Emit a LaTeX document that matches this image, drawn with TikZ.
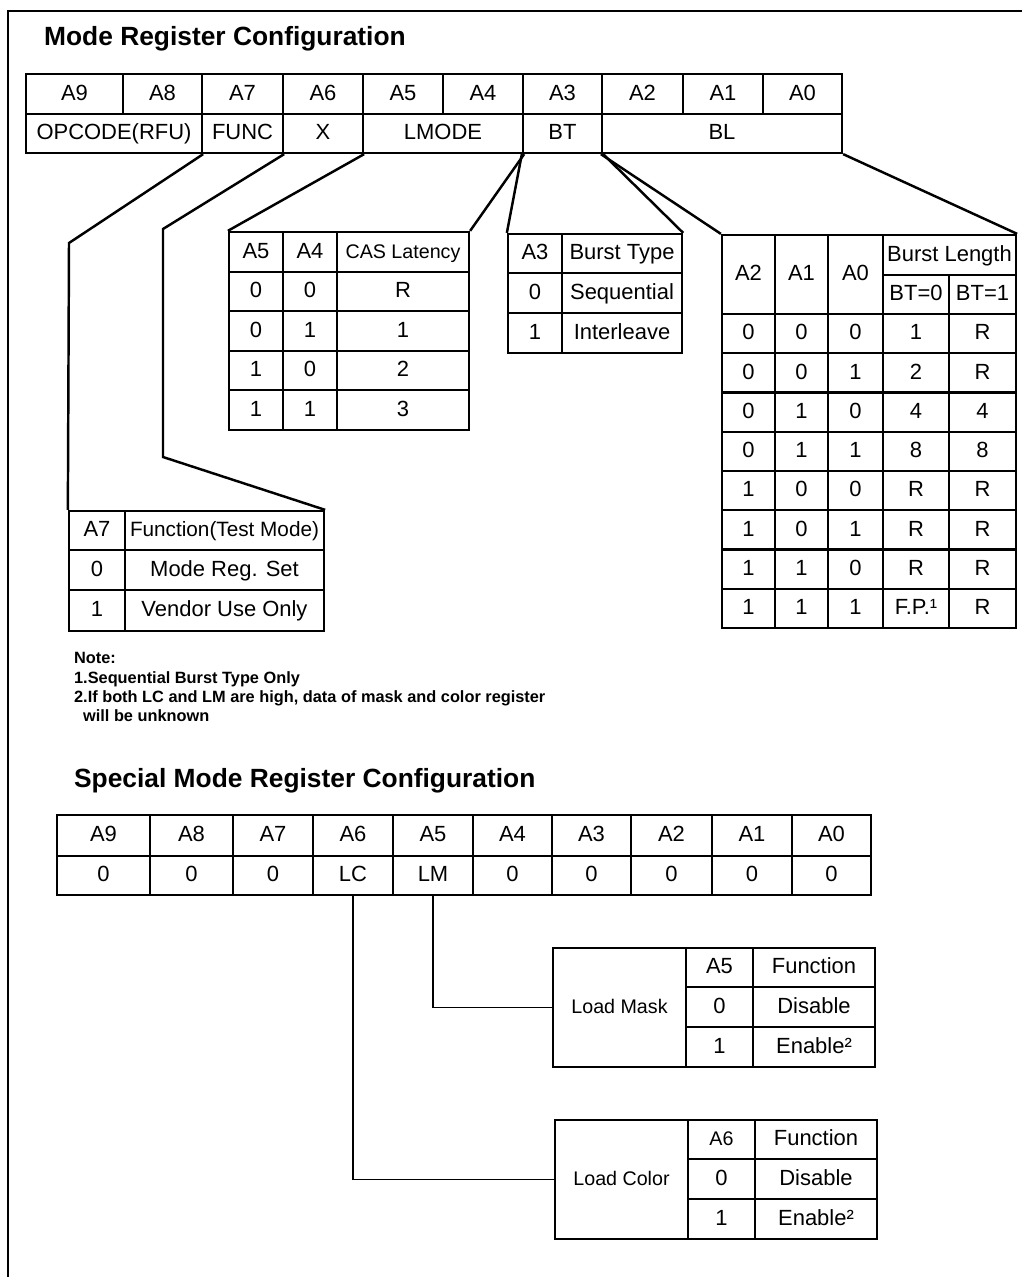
\documentclass[tikz,border=0pt]{standalone}
\usepackage{fontspec}
\setmainfont{Liberation Sans}
\tikzset{
  cell/.style={draw, line width=1.3pt, inner sep=0pt, text height=0.72em, text depth=0pt,
    font=\fontsize{12.5}{15}\selectfont},
  smalltext/.style={font=\fontsize{11.2}{13}\selectfont},
  heading/.style={inner sep=0pt, anchor=base west, font=\bfseries\fontsize{15}{18}\selectfont},
  notetext/.style={inner sep=0pt, anchor=base west, font=\bfseries\fontsize{9.3}{11}\selectfont},
  link/.style={line width=1.4pt},
}
% cell given by its left, top, right and bottom edge (pixels)
\newcommand\tabcell[7][]{%
  \node[cell,#1,minimum width={(#5-#3)*0.02cm},minimum height={(#6-#4)*0.02cm}]
    (#2) at ({(#3+#5)/2},{(#4+#6)/2}) {#7};}
\begin{document}
\begin{tikzpicture}[x=0.02cm, y=-0.02cm, line width=1.3pt]
  \useasboundingbox (0,0) rectangle (1022,1277);
  \draw[line width=1.2pt] (8,1277) -- (8,11) -- (1022,11);

  % mode register
  \node[heading] (mtitle) at (43,46) {Mode Register Configuration};
  \foreach \n/\l/\r in {9/26/123, 8/123/202, 7/202/283, 6/283/363, 5/363/443,
                        4/443/523, 3/523/602, 2/602/683, 1/683/763, 0/763/842}
    {\tabcell{ma\n}{\l}{74}{\r}{114}{A\n}}
  \tabcell{opc}{26}{114}{202}{153}{OPCODE(RFU)}
  \tabcell{func}{202}{114}{283}{153}{FUNC}
  \tabcell{xbit}{283}{114}{363}{153}{X}
  \tabcell{lmode}{363}{114}{523}{153}{LMODE}
  \tabcell{bt}{523}{114}{602}{153}{BT}
  \tabcell{bl}{602}{114}{842}{153}{BL}

  % CAS latency
  \tabcell{a5h}{229}{232}{283}{272}{A5}
  \tabcell{a4h}{283}{232}{337}{272}{A4}
  \tabcell[smalltext]{cash}{337}{232}{469}{272}{CAS Latency}
  \foreach \p/\q/\v/\t/\b in {0/0/R/272/311, 0/1/1/311/351, 1/0/2/351/390, 1/1/3/390/430}
    {\tabcell{c\t a}{229}{\t}{283}{\b}{\p}
     \tabcell{c\t b}{283}{\t}{337}{\b}{\q}
     \tabcell{c\t c}{337}{\t}{469}{\b}{\v}}

  % burst type
  \tabcell{a3h}{508}{234}{562}{273}{A3}
  \tabcell{bth}{562}{234}{682}{273}{Burst Type}
  \tabcell{bt0}{508}{273}{562}{313}{0}
  \tabcell{bts}{562}{273}{682}{313}{Sequential}
  \tabcell{bt1}{508}{313}{562}{353}{1}
  \tabcell{bti}{562}{313}{682}{353}{Interleave}

  % burst length
  \tabcell{a2h}{722}{235}{775}{314}{A2}
  \tabcell{a1h}{775}{235}{828}{314}{A1}
  \tabcell{a0h}{828}{235}{883}{314}{A0}
  \tabcell{blh}{883}{235}{1016}{275}{Burst Length}
  \tabcell{btz}{883}{275}{949}{314}{BT=0}
  \tabcell{bto}{949}{275}{1016}{314}{BT=1}
  \foreach \a/\b/\c/\p/\q [count=\k from 0] in
      {0/0/0/1/R, 0/0/1/2/R, 0/1/0/4/4, 0/1/1/8/8,
       1/0/0/R/R, 1/0/1/R/R, 1/1/0/R/R, 1/1/1/F.P.¹/R}
    {\pgfmathsetmacro\yt{314+39.25*\k}
     \pgfmathsetmacro\yb{\yt+39.25}
     \tabcell{b\k x2}{722}{\yt}{775}{\yb}{\a}
     \tabcell{b\k x1}{775}{\yt}{828}{\yb}{\b}
     \tabcell{b\k x0}{828}{\yt}{883}{\yb}{\c}
     \tabcell{b\k p}{883}{\yt}{949}{\yb}{\p}
     \tabcell{b\k q}{949}{\yt}{1016}{\yb}{\q}}

  % function
  \tabcell{a7h}{69}{511}{125}{550}{A7}
  \tabcell[font=\fontsize{11.8}{14}\selectfont]{fnh}{125}{511}{324}{550}{Function(Test Mode)}
  \tabcell{fn0}{69}{550}{125}{590}{0}
  \tabcell{fnm}{125}{550}{324}{590}{Mode Reg. Set}
  \tabcell{fn1}{69}{590}{125}{631}{1}
  \tabcell{fnv}{125}{590}{324}{631}{Vendor Use Only}

  \coordinate (k1) at (69,243);
  \coordinate (k2) at (163,229);
  \coordinate (k3) at (163,457);
  \draw[link] (opc.south east) -- (k1) -- (a7h.north west);
  \draw[link] (func.south east) -- (k2) -- (k3) -- (fnh.north east);
  \draw[link] (xbit.south east) -- (a5h.north west);
  \draw[link] (lmode.south east) -- (cash.north east);
  \draw[link] (bt.south west) -- (a3h.north west);
  \draw[link] (bt.south east) -- (bth.north east);
  \draw[link] (bl.south west) -- (a2h.north west);
  \draw[link] (bl.south east) -- (blh.north east);

  % notes
  \node[notetext] (note) at (73,663) {Note:};
  \node[notetext] (note1) at (73,683) {1.Sequential Burst Type Only};
  \node[notetext] (note2) at (73,702) {2.If both LC and LM are high, data of mask and color register};
  \node[notetext] (note3) at (82,721) {will be unknown};

  % special mode register
  \node[heading] (stitle) at (73,787) {Special Mode Register Configuration};
  \foreach \n/\l/\r/\v in {9/57/150/0, 8/150/233/0, 7/233/313/0, 6/313/393/LC, 5/393/473/LM,
                           4/473/552/0, 3/552/631/0, 2/631/712/0, 1/712/792/0, 0/792/871/0}
    {\tabcell{sa\n}{\l}{815}{\r}{856}{A\n}
     \tabcell{sv\n}{\l}{856}{\r}{895}{\v}}

  \tabcell[smalltext]{lmask}{553}{948}{686}{1067}{Load Mask}
  \tabcell{lma}{686}{948}{753}{987}{A5}
  \tabcell{lmf}{753}{948}{875}{987}{Function}
  \tabcell{lm0}{686}{987}{753}{1027}{0}
  \tabcell{lmd}{753}{987}{875}{1027}{Disable}
  \tabcell{lm1}{686}{1027}{753}{1067}{1}
  \tabcell{lme}{753}{1027}{875}{1067}{Enable²}

  \tabcell[smalltext]{lcol}{555}{1120}{688}{1239}{Load Color}
  \tabcell[smalltext]{lca}{688}{1120}{755}{1159}{A6}
  \tabcell{lcf}{755}{1120}{877}{1159}{Function}
  \tabcell{lc0}{688}{1159}{755}{1199}{0}
  \tabcell{lcd}{755}{1159}{877}{1199}{Disable}
  \tabcell{lc1}{688}{1199}{755}{1239}{1}
  \tabcell{lce}{755}{1199}{877}{1239}{Enable²}

  \draw[link, line width=1.1pt] (sv5.south) |- (lmask.west);
  \draw[link, line width=1.1pt] (sv6.south) |- (lcol.west);
\end{tikzpicture}
\end{document}
